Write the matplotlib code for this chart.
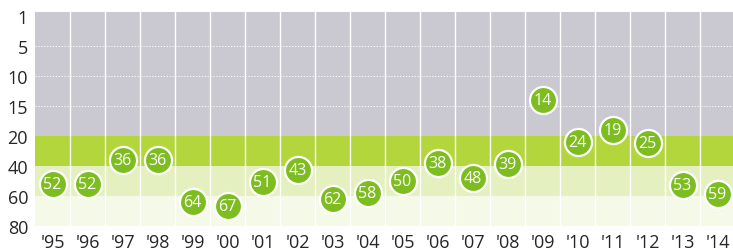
import numpy as np
import matplotlib
matplotlib.use("Agg")
import matplotlib.pyplot as plt

# Данные: место в рейтинге по годам
years = ["'95", "'96", "'97", "'98", "'99", "'00", "'01", "'02", "'03", "'04",
         "'05", "'06", "'07", "'08", "'09", "'10", "'11", "'12", "'13", "'14"]
ranks = [52, 52, 36, 36, 64, 67, 51, 43, 62, 58,
         50, 38, 48, 39, 14, 24, 19, 25, 53, 59]
y_ticks = [1, 5, 10, 15, 20, 40, 60, 80]

# Кусочно-линейная шкала: каждая метка занимает одинаковый шаг
_vals = np.array([-3.0] + y_ticks + [100.0])
_pos = np.arange(-1, len(y_ticks) + 1, dtype=float)


def fwd(v):
    return np.interp(v, _vals, _pos)


def inv(p):
    return np.interp(p, _pos, _vals)


plt.rcParams['font.family'] = ['Open Sans', 'DejaVu Sans']

fig = plt.figure(figsize=(7.33, 2.53), dpi=100)
ax = fig.add_axes([35 / 733, 26 / 253, 700 / 733, 214 / 253])
ax.set_yscale('function', functions=(fwd, inv))

top_val = inv(-0.12)
ax.set_xlim(-0.5, len(years) - 0.5)
ax.set_ylim(80, top_val)

# Фоновые полосы
ax.axhspan(top_val, 20, color='#cac8d0', lw=0, zorder=0)
ax.axhspan(20, 40, color='#b3d63c', lw=0, zorder=0)
ax.axhspan(40, 60, color='#e5f0c0', lw=0, zorder=0)
ax.axhspan(60, 80, color='#f5f9e8', lw=0, zorder=0)

# Сетка
for v in [5, 10, 15]:
    ax.axhline(v, color='white', lw=0.7, ls=(0, (1.2, 1.8)), zorder=1)
for i in range(1, len(years)):
    ax.axvline(i - 0.5, color='white', lw=1.0, zorder=1)

x = np.arange(len(years))
ax.plot(x, ranks, 'o', ms=19.5, mfc='#7dbd1f', mec='white', mew=1.6,
        ls='none', zorder=3)
for xi, r in zip(x, ranks):
    ax.text(xi, r, str(r), color='white', fontsize=11.5,
            ha='center', va='center', zorder=4)

ax.set_yticks(y_ticks)
ax.set_yticklabels([str(t) for t in y_ticks])
ax.yaxis.set_minor_locator(matplotlib.ticker.NullLocator())
ax.set_xticks(x)
ax.set_xticklabels(years)
ax.tick_params(axis='both', length=0, labelsize=13, colors='#262626')
ax.tick_params(axis='y', pad=5)
ax.tick_params(axis='x', pad=5)
for s in ax.spines.values():
    s.set_visible(False)

fig.savefig('out.png', dpi=100)
